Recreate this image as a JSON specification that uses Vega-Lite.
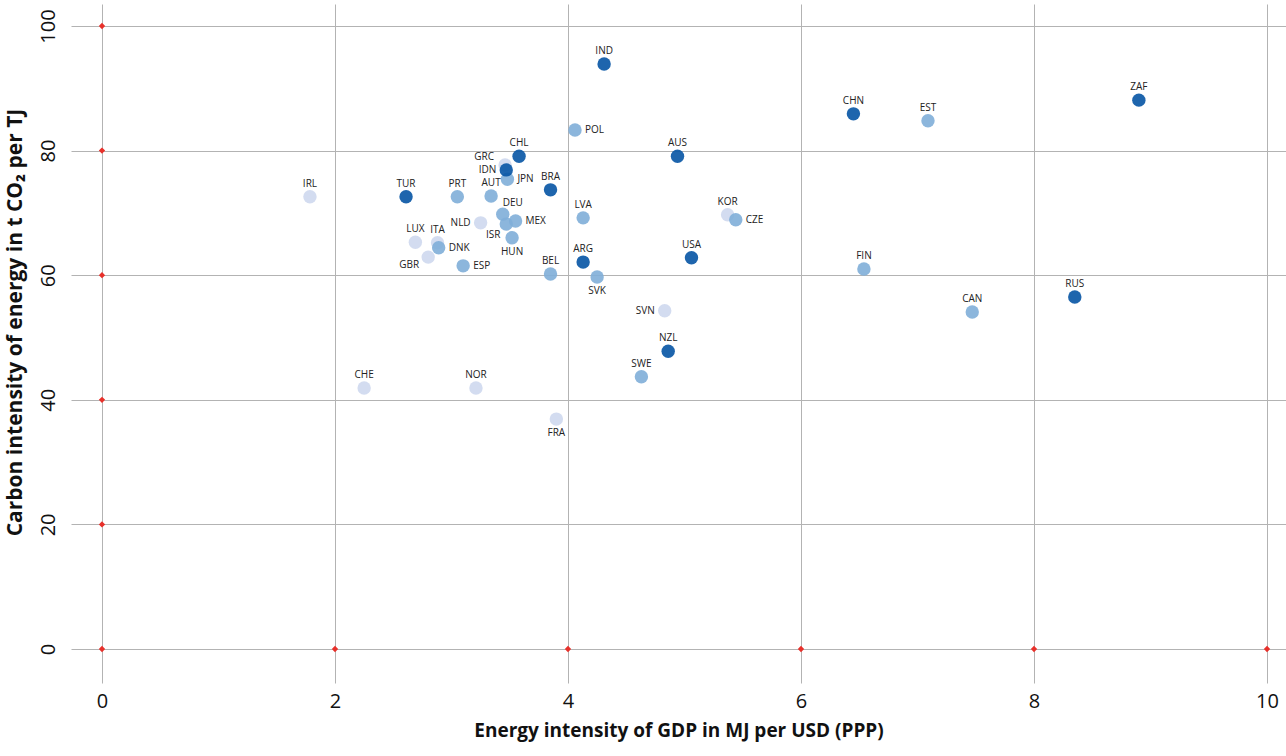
{
  "$schema": "https://vega.github.io/schema/vega-lite/v6.json",
  "width": 1215,
  "height": 679,
  "autosize": {"type": "none"},
  "padding": {"left": 71, "top": 4, "right": 0, "bottom": 73},
  "background": "white",
  "config": {
    "view": {"stroke": null},
    "font": "Open Sans",
    "axis": {"domain": false, "ticks": false, "grid": true, "gridColor": "#b3b3b3", "gridWidth": 1, "labelColor": "#111", "titleColor": "#111", "labelFont": "Open Sans", "titleFont": "Open Sans"}
  },
  "datasets": {
    "countries": [
      {"code": "IRL", "energy": 1.785, "carbon": 72.6, "tier": "low"},
      {"code": "TUR", "energy": 2.61, "carbon": 72.6, "tier": "high"},
      {"code": "PRT", "energy": 3.05, "carbon": 72.6, "tier": "mid"},
      {"code": "AUT", "energy": 3.34, "carbon": 72.7, "tier": "mid"},
      {"code": "GRC", "energy": 3.46, "carbon": 77.7, "tier": "low"},
      {"code": "JPN", "energy": 3.48, "carbon": 75.4, "tier": "mid"},
      {"code": "IDN", "energy": 3.47, "carbon": 76.9, "tier": "high"},
      {"code": "CHL", "energy": 3.58, "carbon": 79.1, "tier": "high"},
      {"code": "BRA", "energy": 3.85, "carbon": 73.7, "tier": "high"},
      {"code": "DEU", "energy": 3.44, "carbon": 69.8, "tier": "mid"},
      {"code": "MEX", "energy": 3.55, "carbon": 68.7, "tier": "mid"},
      {"code": "ISR", "energy": 3.47, "carbon": 68.2, "tier": "mid"},
      {"code": "HUN", "energy": 3.52, "carbon": 66.0, "tier": "mid"},
      {"code": "NLD", "energy": 3.25, "carbon": 68.4, "tier": "low"},
      {"code": "LUX", "energy": 2.69, "carbon": 65.3, "tier": "low"},
      {"code": "ITA", "energy": 2.88, "carbon": 65.2, "tier": "low"},
      {"code": "DNK", "energy": 2.89, "carbon": 64.4, "tier": "mid"},
      {"code": "GBR", "energy": 2.80, "carbon": 62.9, "tier": "low"},
      {"code": "ESP", "energy": 3.10, "carbon": 61.5, "tier": "mid"},
      {"code": "BEL", "energy": 3.85, "carbon": 60.2, "tier": "mid"},
      {"code": "LVA", "energy": 4.13, "carbon": 69.2, "tier": "mid"},
      {"code": "ARG", "energy": 4.13, "carbon": 62.1, "tier": "high"},
      {"code": "SVK", "energy": 4.25, "carbon": 59.7, "tier": "mid"},
      {"code": "POL", "energy": 4.06, "carbon": 83.3, "tier": "mid"},
      {"code": "IND", "energy": 4.31, "carbon": 93.9, "tier": "high"},
      {"code": "AUS", "energy": 4.94, "carbon": 79.1, "tier": "high"},
      {"code": "USA", "energy": 5.06, "carbon": 62.8, "tier": "high"},
      {"code": "KOR", "energy": 5.37, "carbon": 69.7, "tier": "low"},
      {"code": "CZE", "energy": 5.44, "carbon": 68.9, "tier": "mid"},
      {"code": "SVN", "energy": 4.83, "carbon": 54.3, "tier": "low"},
      {"code": "NZL", "energy": 4.86, "carbon": 47.8, "tier": "high"},
      {"code": "SWE", "energy": 4.63, "carbon": 43.7, "tier": "mid"},
      {"code": "FRA", "energy": 3.90, "carbon": 36.9, "tier": "low"},
      {"code": "CHE", "energy": 2.25, "carbon": 41.9, "tier": "low"},
      {"code": "NOR", "energy": 3.21, "carbon": 41.9, "tier": "low"},
      {"code": "CHN", "energy": 6.45, "carbon": 85.9, "tier": "high"},
      {"code": "EST", "energy": 7.09, "carbon": 84.8, "tier": "mid"},
      {"code": "FIN", "energy": 6.54, "carbon": 61.0, "tier": "mid"},
      {"code": "CAN", "energy": 7.47, "carbon": 54.1, "tier": "mid"},
      {"code": "RUS", "energy": 8.35, "carbon": 56.5, "tier": "high"},
      {"code": "ZAF", "energy": 8.90, "carbon": 88.1, "tier": "high"}
    ],
    "markers": [
      {"energy": 0, "carbon": 0}, {"energy": 2, "carbon": 0}, {"energy": 4, "carbon": 0},
      {"energy": 6, "carbon": 0}, {"energy": 8, "carbon": 0}, {"energy": 10, "carbon": 0},
      {"energy": 0, "carbon": 20}, {"energy": 0, "carbon": 40}, {"energy": 0, "carbon": 60},
      {"energy": 0, "carbon": 80}, {"energy": 0, "carbon": 100}
    ]
  },
  "encoding": {
    "x": {
      "field": "energy", "type": "quantitative",
      "scale": {"domain": [-0.266, 10.163], "nice": false, "zero": false},
      "axis": {"values": [0, 2, 4, 6, 8, 10], "labelFontSize": 20, "labelPadding": 8, "title": "Energy intensity of GDP in MJ per USD (PPP)", "titleFontSize": 19, "titleFontWeight": "bold", "titlePadding": 10}
    },
    "y": {
      "field": "carbon", "type": "quantitative",
      "scale": {"domain": [-5.46, 103.53], "nice": false, "zero": false},
      "axis": {"values": [0, 20, 40, 60, 80, 100], "labelFontSize": 20, "labelAngle": -90, "labelPadding": 13, "title": "Carbon intensity of energy in t CO₂ per TJ", "titleFontSize": 21, "titleFontWeight": "bold", "titleY": 318, "titlePadding": 13}
    }
  },
  "layer": [
    {
      "data": {"name": "markers"},
      "mark": {"type": "point", "shape": "diamond", "filled": true, "size": 40, "color": "#e8302a", "opacity": 1}
    },
    {
      "data": {"name": "countries"},
      "mark": {"type": "circle", "size": 180, "opacity": 0.9},
      "encoding": {
        "color": {"field": "tier", "type": "nominal", "legend": null,
          "scale": {"domain": ["low", "mid", "high"], "range": ["#ced8ee", "#7faed8", "#0654a4"]}}
      }
    },
    {
      "data": {"name": "countries"},
      "transform": [{"filter": {"field": "code", "oneOf": ["IRL","TUR","PRT","AUT","CHL","BRA","LVA","ARG","BEL","USA","KOR","IND","AUS","CHN","EST","FIN","CAN","RUS","ZAF","CHE","NOR","NZL","SWE","ITA","LUX"]}}],
      "mark": {"type": "text", "fontSize": 10, "color": "#222", "align": "center", "baseline": "alphabetic", "dy": -10},
      "encoding": {"text": {"field": "code"}}
    },
    {
      "data": {"name": "countries"},
      "transform": [{"filter": {"field": "code", "oneOf": ["DEU"]}}],
      "mark": {"type": "text", "fontSize": 10, "color": "#222", "align": "center", "baseline": "alphabetic", "dy": -8, "dx": 10},
      "encoding": {"text": {"field": "code"}}
    },
    {
      "data": {"name": "countries"},
      "transform": [{"filter": {"field": "code", "oneOf": ["POL","JPN","MEX","DNK","ESP","CZE"]}}],
      "mark": {"type": "text", "fontSize": 10, "color": "#222", "align": "left", "baseline": "middle", "dx": 10},
      "encoding": {"text": {"field": "code"}}
    },
    {
      "data": {"name": "countries"},
      "transform": [{"filter": {"field": "code", "oneOf": ["IDN","NLD","SVN"]}}],
      "mark": {"type": "text", "fontSize": 10, "color": "#222", "align": "right", "baseline": "middle", "dx": -10},
      "encoding": {"text": {"field": "code"}}
    },
    {
      "data": {"name": "countries"},
      "transform": [{"filter": {"field": "code", "oneOf": ["GRC"]}}],
      "mark": {"type": "text", "fontSize": 10, "color": "#222", "align": "right", "baseline": "middle", "dx": -11, "dy": -8},
      "encoding": {"text": {"field": "code"}}
    },
    {
      "data": {"name": "countries"},
      "transform": [{"filter": {"field": "code", "oneOf": ["GBR"]}}],
      "mark": {"type": "text", "fontSize": 10, "color": "#222", "align": "right", "baseline": "middle", "dx": -9, "dy": 8},
      "encoding": {"text": {"field": "code"}}
    },
    {
      "data": {"name": "countries"},
      "transform": [{"filter": {"field": "code", "oneOf": ["SVK","FRA","HUN"]}}],
      "mark": {"type": "text", "fontSize": 10, "color": "#222", "align": "center", "baseline": "top", "dy": 9},
      "encoding": {"text": {"field": "code"}}
    },
    {
      "data": {"name": "countries"},
      "transform": [{"filter": {"field": "code", "oneOf": ["ISR"]}}],
      "mark": {"type": "text", "fontSize": 10, "color": "#222", "align": "center", "baseline": "middle", "dx": -13, "dy": 11},
      "encoding": {"text": {"field": "code"}}
    }
  ]
}
